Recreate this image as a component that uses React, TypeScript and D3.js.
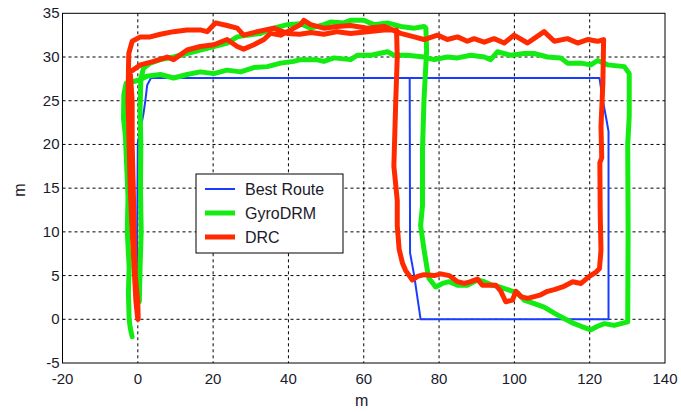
import React from "react";
import * as d3 from "d3";

type P = [number, number];

const xTicks = [-20, 0, 20, 40, 60, 80, 100, 120, 140];
const yTicks = [-5, 0, 5, 10, 15, 20, 25, 30, 35];

const seriesNames = ["Best Route", "GyroDRM", "DRC"];
const seriesColors = ["#1a3cff", "#12ec12", "#ff2a00"];
const seriesWidths = [2, 5, 5];

const bestRoute: P[] = [
  [0, 0], [-0.3, 3], [0, 20.2], [1.5, 23.5], [2, 25], [2.5, 26.8], [3.5, 27.6],
  [122.6, 27.6], [123.5, 25], [124.3, 23.2], [125, 21.5], [125, 0], [75.1, 0],
  [73.4, 5], [72.3, 7.6], [72.2, 27.6],
];

const gyroDRM: P[] = [
  [-1.5, -2], [-2, -1], [-2.3, 0], [-2.5, 3], [-2.3, 6], [-2.8, 10], [-2.6, 14],
  [-3, 18], [-3.3, 21], [-3.8, 23], [-3.7, 25.7], [-3.1, 27], [-1.1, 27.2],
  [0.6, 27.4], [2.4, 27.8], [6, 28], [9.5, 27.6], [13.1, 28], [16.6, 28.3],
  [20.2, 28.1], [23.7, 28.5], [27.3, 28.3], [30.8, 28.8], [34.4, 28.9],
  [37.9, 29.3], [41.4, 29.5], [43.2, 29.7], [47.3, 29.7], [49.4, 29.5],
  [52.1, 29.9], [56.5, 29.7], [58.3, 30.2], [61.9, 30.2], [66.3, 30.6],
  [68, 30.2], [71.6, 30.2], [76, 30], [78.7, 29.7], [82.2, 30], [84.9, 29.9],
  [88.4, 30.2], [92, 30], [93.7, 29.7], [95.5, 30.6], [99, 30.2], [102.6, 30.4],
  [105.2, 30.4], [108.8, 30], [112.3, 29.9], [114.1, 29.3], [117.7, 29.3],
  [120.3, 29.1], [122.1, 29.6], [124.8, 29.1], [129.2, 28.9], [130.5, 28.1],
  [130.5, 23.2], [130.1, 20], [130.2, 10], [130.1, 0], [130.1, -0.3],
  [128.3, -0.5], [126.5, -0.7], [123.9, -0.5], [122.1, -0.8], [120.3, -1.2],
  [117.7, -0.8], [115.9, -0.5], [113.2, 0.1], [110.6, 0.7], [107.9, 1.4],
  [105.3, 1.8], [102.6, 2.2], [100.9, 3.0], [98.2, 3.4], [96, 3.7], [94.2, 3.9],
  [92, 4.3], [90.2, 4.5], [87.5, 3.9], [84.9, 3.9], [82.7, 4.3], [80.9, 4.1],
  [79.1, 3.7], [77.3, 4.7], [76.9, 5.6], [76, 8], [75.1, 10.7], [75.6, 13],
  [75.6, 19.4], [76, 25.1], [76.7, 30.8], [76.5, 33.3], [76, 33.5], [73.4, 33.3],
  [69.8, 33.5], [66.3, 33.9], [62.7, 33.7], [60, 34.2], [56.5, 34.2],
  [54.7, 33.9], [51.2, 34], [49.4, 33.7], [45.9, 33.3], [43.2, 33.8],
  [39.7, 33.7], [36.1, 33.3], [32.6, 32.7], [29, 32.5], [26.4, 32.3],
  [23.7, 31.6], [20.2, 31.2], [16.6, 30.8], [13.1, 30.4], [9.5, 30], [6, 29.7],
  [3.3, 29.3], [1.5, 28.7], [0.8, 27.5], [0.6, 24], [0.8, 20], [0.7, 15],
  [0.9, 10], [0.6, 6], [0.4, 2],
];

const drc: P[] = [
  [0, 0], [-0.5, 2], [-1, 6], [-1.5, 10], [-2, 15], [-2.3, 20], [-2.6, 25],
  [-2.5, 28], [-2.4, 30.4], [-1.5, 31.8], [0.7, 32.3], [3.3, 32.3], [6, 32.6],
  [9.5, 32.9], [13, 33.1], [16.6, 33.1], [18.4, 32.9], [20.6, 33.9],
  [23.7, 33.6], [26.4, 33.3], [28.1, 32.5], [31.7, 32.9], [36.1, 33.3],
  [39.7, 32.7], [43, 32.6], [46, 32.8], [49.4, 32.6], [53, 32.9], [56.5, 32.7],
  [61, 32.9], [65.4, 33.1], [68.7, 33.1], [68.9, 30], [68.5, 25], [68, 17.5],
  [68.9, 13.6], [68.9, 10.7], [69.4, 8], [70.3, 6.4], [71.1, 5.6], [72.9, 4.5],
  [74.3, 4.9], [76, 5.1], [78.7, 5], [80.5, 5.2], [82.7, 5], [84.9, 4.3],
  [86.7, 4.1], [88.4, 4.3], [90.2, 4.6], [91.5, 3.9], [95.1, 3.9], [96.4, 3.2],
  [97.7, 2.0], [99.5, 2.2], [100.4, 3.2], [101.7, 2.6], [103.5, 2.4],
  [105.3, 2.6], [107, 2.8], [108.8, 3.2], [110.6, 3.4], [112.8, 3.7],
  [115.5, 4.3], [117.7, 4.1], [119.9, 4.9], [121.7, 5.4], [122.6, 5.8],
  [123, 7.9], [122.8, 12], [122.7, 17.9], [123.2, 18.5], [123, 22],
  [123.5, 27], [123.7, 32], [122.1, 31.8], [119.4, 32], [116.8, 31.6],
  [114.1, 32.1], [110.6, 31.8], [107.9, 32.9], [103.5, 31.6], [99.9, 32.5],
  [97.3, 31.6], [94.6, 32.1], [92, 31.7], [89.3, 32.1], [87.5, 31.8],
  [84.9, 32.3], [82.2, 32], [79.6, 32.5], [76, 32], [73.4, 32.3], [69.8, 32.7],
  [65.4, 33.5], [61, 33.3], [56.5, 33.6], [53, 33.5], [49.4, 33.3],
  [45.9, 33.7], [44.1, 34.2], [43.2, 33.7], [40.6, 33.1], [37.9, 32.5],
  [35.2, 32.7], [33.5, 32], [30.8, 31.4], [28.1, 30.9], [26.4, 31.2],
  [23.7, 32.0], [20.2, 31.4], [16.6, 31.2], [13.1, 30.8], [9.5, 29.7],
  [7.8, 30.0], [4.2, 29.5], [0.7, 29.1], [-2, 28.3], [-1.5, 25], [-1.5, 20],
  [-1.2, 15], [-1, 10], [-0.7, 5], [0, 2], [0.1, 0],
];

const allSeries = [bestRoute, gyroDRM, drc];

export default function App() {
  const W = 681;
  const H = 412;
  const left = 62.5;
  const right = 665;
  const top = 13.3;
  const bottom = 363;
  const x = d3.scaleLinear().domain([-20, 140]).range([left, right]);
  const y = d3.scaleLinear().domain([-5, 35]).range([bottom, top]);
  const line = d3
    .line<P>()
    .x((d) => x(d[0]))
    .y((d) => y(d[1]));
  const font = "'Liberation Sans', Arial, sans-serif";
  const lg = { x: 196, y: 174, w: 147, h: 79 };
  const legendY = [189, 213, 237];

  return (
    <svg
      width={W}
      height={H}
      style={{ position: "absolute", left: 0, top: 0, background: "#fff" }}
      fontFamily={font}
    >
      <rect x={0} y={0} width={W} height={H} fill="#fff" />
      <defs>
        <clipPath id="plotclip">
          <rect x={left} y={top} width={right - left} height={bottom - top} />
        </clipPath>
      </defs>
      {/* grid */}
      {xTicks.slice(1, -1).map((t) => (
        <line
          key={"gx" + t}
          x1={x(t)}
          x2={x(t)}
          y1={top}
          y2={bottom}
          stroke="#000"
          strokeWidth={1}
          strokeDasharray="3,3"
        />
      ))}
      {yTicks.slice(1, -1).map((t) => (
        <line
          key={"gy" + t}
          x1={left}
          x2={right}
          y1={y(t)}
          y2={y(t)}
          stroke="#000"
          strokeWidth={1}
          strokeDasharray="3,3"
        />
      ))}
      {/* series */}
      <g clipPath="url(#plotclip)">
        {allSeries.map((s, i) => (
          <path
            key={seriesNames[i]}
            d={line(s) || ""}
            fill="none"
            stroke={seriesColors[i]}
            strokeWidth={seriesWidths[i]}
            strokeLinejoin="round"
            strokeLinecap="round"
          />
        ))}
      </g>
      {/* box */}
      <rect
        x={left}
        y={top}
        width={right - left}
        height={bottom - top}
        fill="none"
        stroke="#000"
        strokeWidth={1}
      />
      {/* tick labels */}
      {xTicks.map((t) => (
        <text
          key={"tx" + t}
          x={x(t)}
          y={384}
          fontSize={15}
          textAnchor="middle"
          fill="#1a1a2a"
        >
          {t}
        </text>
      ))}
      {yTicks.map((t) => (
        <text
          key={"ty" + t}
          x={left - 3}
          y={y(t) + 5}
          fontSize={15}
          textAnchor="end"
          fill="#1a1a2a"
        >
          {t}
        </text>
      ))}
      <text x={(left + right) / 2 - 2} y={406} fontSize={16} textAnchor="middle" fill="#1a1a2a">
        m
      </text>
      <text
        transform={`translate(25, ${(top + bottom) / 2 + 2}) rotate(-90)`}
        fontSize={16}
        textAnchor="middle"
        fill="#1a1a2a"
      >
        m
      </text>
      {/* legend */}
      <rect x={lg.x} y={lg.y} width={lg.w} height={lg.h} fill="#fff" stroke="#000" strokeWidth={1} />
      {seriesNames.map((n, i) => (
        <g key={"lg" + n}>
          <line
            x1={205}
            x2={235}
            y1={legendY[i]}
            y2={legendY[i]}
            stroke={seriesColors[i]}
            strokeWidth={seriesWidths[i]}
          />
          <text x={245} y={legendY[i] + 6} fontSize={16} fill="#1a1a2a">
            {n}
          </text>
        </g>
      ))}
    </svg>
  );
}
